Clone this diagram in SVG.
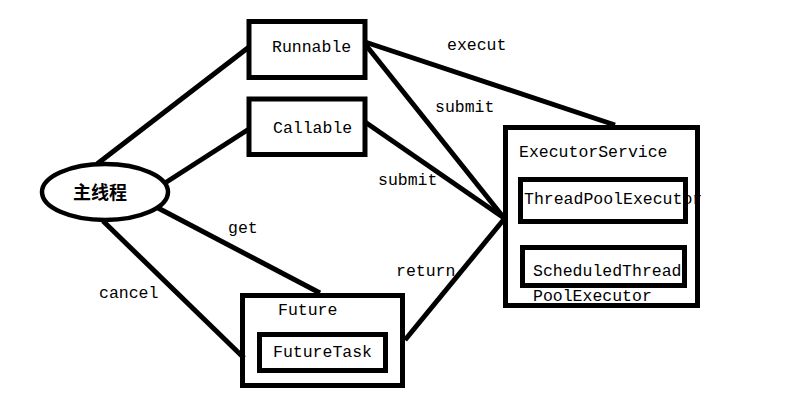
<svg xmlns="http://www.w3.org/2000/svg" width="790" height="402" viewBox="0 0 790 402">
<style>
.box{fill:none;stroke:#000;stroke-width:5}
.ln{fill:none;stroke:#000;stroke-width:5;stroke-linecap:butt}
text{font-family:"Liberation Mono","DejaVu Sans Mono",monospace;font-size:16.5px;fill:#000}
.cjk{font-family:"Noto Sans CJK SC",sans-serif;font-size:18px;font-weight:bold}
</style>
<rect width="790" height="402" fill="#fff"/>
<g id="connectors">
<line class="ln" x1="97" y1="164" x2="249" y2="47"/>
<line class="ln" x1="165" y1="183" x2="249" y2="129"/>
<line class="ln" x1="158" y1="208" x2="320" y2="293"/>
<line class="ln" x1="103" y1="221" x2="244" y2="358"/>
<line class="ln" x1="365" y1="42" x2="615" y2="125"/>
<line class="ln" x1="365" y1="44" x2="504" y2="218"/>
<line class="ln" x1="365" y1="122" x2="504" y2="218"/>
<line class="ln" x1="405" y1="340" x2="505" y2="218"/>
<text x="447" y="50">execut</text>
<text x="435" y="112">submit</text>
<text x="378" y="185">submit</text>
<text x="228" y="233">get</text>
<text x="99" y="298">cancel</text>
<text x="396" y="276">return</text>
</g>
<g id="main">
<ellipse cx="105" cy="192" rx="63" ry="28" fill="none" stroke="#000" stroke-width="4.5"/>
<text class="cjk" x="73" y="199">主线程</text>
</g>
<g id="runnable">
<rect class="box" x="249" y="21.5" width="116" height="56"/>
<text x="272" y="52">Runnable</text>
</g>
<g id="callable">
<rect class="box" x="249" y="99" width="116" height="55.5"/>
<text x="273" y="133">Callable</text>
</g>
<g id="executorService">
<rect class="box" x="505.5" y="127.5" width="192" height="178"/>
<text x="519" y="157">ExecutorService</text>
</g>
<g id="threadPoolExecutor">
<rect class="box" x="520.5" y="179.5" width="165" height="42"/>
<text x="524" y="204">ThreadPoolExecutor</text>
</g>
<g id="scheduled">
<rect class="box" x="522.5" y="247.5" width="162" height="38"/>
<text x="533" y="276">ScheduledThread</text>
<text x="533" y="301">PoolExecutor</text>
</g>
<g id="future">
<rect class="box" x="242.5" y="295.5" width="160" height="90"/>
<text x="278" y="315">Future</text>
</g>
<g id="futureTask">
<rect class="box" x="259.5" y="334.5" width="126" height="36"/>
<text x="273" y="357">FutureTask</text>
</g>
</svg>
